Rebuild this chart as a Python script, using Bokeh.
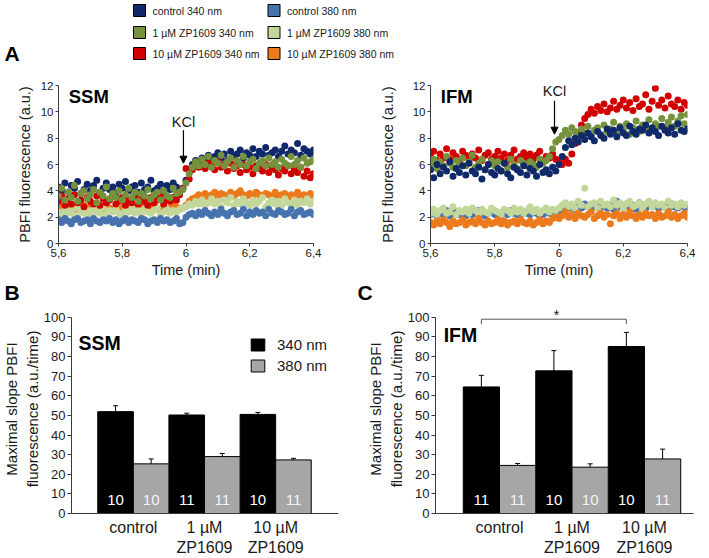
import numpy as np
from bokeh.plotting import figure
from bokeh.models import (Range1d, FixedTicker, Whisker, TeeHead, Label, Arrow,
                          NormalHead, Legend, LegendItem, ColumnDataSource)
from bokeh.layouts import column, row
from bokeh.embed import file_html
from bokeh.resources import INLINE
from bokeh.core.properties import value

FONT = "Liberation Sans"

# ---------------- data ----------------
time_start = 5.60
time_step = 0.01
time_ticks = [5.6, 5.8, 6.0, 6.2, 6.4]
time_tick_labels = ["5,6", "5,8", "6", "6,2", "6,4"]
fluor_ticks = [0, 2, 4, 6, 8, 10, 12]

series_labels = ["control 340 nm", "1 µM ZP1609 340 nm", "10 µM ZP1609 340 nm",
                 "control 380 nm", "1 µM ZP1609 380 nm", "10 µM ZP1609 380 nm"]
series_colors = ["#10296a", "#76923c", "#d00000", "#4672ad", "#c4d79b", "#ec7a1c"]

# SSM traces (one value every 0.01 min from 5.60 to 6.40)
ssm_ctrl_340 = [4.3,4.0,4.6,3.9,4.4,4.2,4.7,3.8,4.1,4.5,4.0,4.4,4.8,3.9,4.2,4.6,4.1,4.3,3.8,4.5,
                4.2,4.7,4.0,4.3,4.4,3.9,4.6,4.1,4.3,4.8,4.0,4.2,4.5,3.9,4.4,4.1,4.6,4.3,4.0,4.2,
                4.8,5.6,6.0,6.3,6.1,6.5,6.2,6.7,6.4,6.6,6.9,6.5,6.8,6.3,7.0,6.6,6.8,7.1,6.5,6.9,
                6.7,7.2,6.6,7.0,6.8,7.3,6.7,6.9,7.1,6.6,7.0,7.4,6.8,7.1,6.9,7.6,6.7,7.2,7.0,6.8,7.1]
ssm_1um_340 = [3.6,4.2,3.3,3.9,3.5,4.4,3.2,3.8,4.0,3.4,3.7,4.1,3.1,3.9,3.6,4.3,3.4,3.8,3.5,4.0,
               3.3,3.7,4.2,3.5,3.9,3.2,3.8,3.6,4.1,3.4,3.7,3.9,3.3,4.0,3.6,3.5,4.2,3.8,3.9,4.1,
               4.6,5.3,5.8,6.2,5.9,6.4,6.0,6.6,5.8,6.3,6.1,6.7,5.9,6.2,6.5,5.8,6.3,6.0,6.6,5.9,
               6.2,6.4,5.7,6.1,6.3,5.9,6.5,6.0,6.2,5.8,6.4,6.1,5.9,6.6,6.0,6.3,5.8,6.5,6.1,6.2,6.4]
ssm_10um_340 = [3.2,3.6,2.9,3.4,3.0,3.7,3.1,3.3,2.8,3.5,3.2,3.0,3.6,2.9,3.4,3.1,3.3,3.7,3.0,3.2,
                3.5,2.9,3.3,3.1,3.6,3.0,3.4,3.2,2.9,3.5,3.1,3.3,3.6,3.0,3.4,3.2,3.5,3.3,3.7,4.2,
                5.7,4.9,5.6,6.0,5.8,6.3,5.7,6.1,5.9,5.6,6.2,5.8,6.0,5.5,6.1,5.7,5.9,5.4,6.0,5.6,
                5.8,5.3,5.9,5.7,5.5,6.0,5.4,5.8,5.6,5.2,5.7,5.5,5.9,5.3,5.6,5.4,5.8,5.1,5.5,5.0,5.3]
ssm_ctrl_380 = [1.8,1.6,1.9,1.7,1.5,1.8,1.9,1.6,1.7,1.8,1.5,1.9,1.7,1.6,1.8,1.7,1.9,1.6,1.8,1.5,
                1.7,1.9,1.6,1.8,1.7,1.6,1.9,1.8,1.5,1.7,1.8,1.6,1.9,1.7,1.8,1.6,1.7,1.9,1.5,1.6,
                2.0,2.2,2.3,2.1,2.4,2.2,2.5,2.3,2.1,2.4,2.2,2.6,2.3,2.1,2.4,2.5,2.2,2.3,2.6,2.1,
                2.4,2.2,2.5,2.3,2.4,2.1,2.6,2.3,2.2,2.5,2.4,2.2,2.3,2.6,2.1,2.4,2.5,2.2,2.3,2.4,2.2]
ssm_1um_380 = [2.4,2.2,2.6,2.3,2.5,2.1,2.7,2.4,2.3,2.5,2.2,2.6,2.4,2.3,2.7,2.2,2.5,2.4,2.6,2.3,
               2.1,2.5,2.4,2.7,2.3,2.5,2.2,2.6,2.4,2.3,2.5,2.7,2.2,2.4,2.6,2.3,2.5,2.4,2.6,2.7,
               2.8,3.0,2.9,3.2,3.0,3.3,2.9,3.1,3.4,3.0,3.2,2.8,3.3,3.1,3.5,2.9,3.2,3.0,3.4,3.1,
               2.9,3.3,3.0,3.2,3.5,2.8,3.1,3.3,3.0,3.2,2.9,3.4,3.1,3.0,3.3,2.9,3.2,3.1,3.4,3.0,3.2]
ssm_10um_380 = [2.8,2.6,2.9,2.7,2.5,2.8,2.6,2.7,2.9,2.6,2.8,2.7,2.5,2.8,2.6,2.9,2.7,2.6,2.8,2.5,
                2.7,2.9,2.6,2.8,2.7,2.6,2.8,2.9,2.7,2.6,2.8,2.7,2.5,2.8,2.6,2.7,2.9,2.8,2.6,2.7,
                2.9,3.2,3.4,3.5,3.7,3.6,3.8,3.5,3.7,3.9,3.6,3.8,3.7,3.5,3.9,3.6,3.8,4.0,3.7,3.6,
                3.8,3.5,3.9,3.7,3.6,3.8,3.7,3.5,3.9,3.6,3.7,3.8,3.5,3.7,3.6,3.9,3.5,3.7,3.6,3.8,3.6]

# IFM traces
ifm_ctrl_340 = [5.6,5.0,6.0,5.3,5.8,5.5,6.2,5.1,5.7,5.4,5.9,5.2,6.1,5.5,5.3,5.8,4.9,5.6,6.0,5.4,
                5.2,5.7,5.5,6.1,5.3,5.0,5.8,5.6,5.4,5.9,5.2,5.7,5.5,5.1,6.0,5.4,5.6,5.3,5.8,5.5,
                6.0,6.6,7.3,7.8,7.5,8.0,7.7,8.2,7.9,8.4,8.1,7.8,8.5,8.2,8.0,8.7,8.3,8.6,8.1,8.8,
                8.4,8.2,8.9,8.5,8.3,8.7,8.6,9.0,8.4,8.8,8.5,8.2,8.9,8.6,8.4,8.8,8.3,9.1,8.6,8.5,8.7]
ifm_1um_340 = [6.0,6.4,5.7,6.2,5.9,6.6,6.1,5.8,6.3,6.0,6.5,5.9,6.2,6.7,5.8,6.1,6.4,5.6,6.0,6.3,
               5.9,6.2,5.5,6.1,5.8,6.4,6.0,5.7,6.3,6.1,5.9,6.2,6.0,5.8,6.4,6.1,6.3,6.6,7.2,7.7,
               7.9,8.2,8.6,8.3,8.8,8.5,8.1,8.7,8.4,8.9,8.2,8.6,8.8,8.3,9.0,8.5,8.7,9.2,8.4,8.9,
               8.6,9.1,8.3,8.8,9.3,8.5,9.0,8.7,9.4,8.6,9.1,8.9,9.5,8.8,9.2,9.6,8.9,9.3,9.7,9.1,9.8]
ifm_10um_340 = [6.6,7.0,6.3,6.8,6.5,7.2,6.4,6.9,6.6,6.2,7.0,6.7,6.4,6.8,6.5,7.1,6.3,6.7,6.9,6.4,
                6.6,7.0,6.5,6.8,6.3,6.7,7.1,6.4,6.6,6.9,6.5,6.8,6.4,6.7,7.0,6.3,6.6,6.5,6.8,6.4,
                6.2,6.0,6.4,6.1,6.8,7.6,8.4,9.0,9.5,9.8,10.2,9.9,10.4,10.1,10.6,10.0,10.3,10.8,10.2,10.5,
                10.9,10.3,10.7,10.1,11.0,10.4,10.6,11.3,10.2,10.8,11.8,10.5,10.9,10.3,11.2,10.6,10.4,10.9,10.2,10.7,10.5]
ifm_ctrl_380 = [2.2,2.4,2.1,2.3,2.2,2.5,2.1,2.3,2.4,2.2,2.3,2.1,2.4,2.2,2.3,2.5,2.2,2.1,2.3,2.4,
                2.2,2.3,2.1,2.4,2.2,2.5,2.3,2.2,2.1,2.4,2.3,2.2,2.4,2.3,2.1,2.2,2.4,2.3,2.5,2.4,
                2.5,2.6,2.8,2.7,2.9,2.6,2.8,2.7,3.0,2.8,2.6,2.9,2.7,3.1,2.8,2.7,2.9,2.6,3.2,2.8,
                2.7,3.0,2.8,2.9,2.6,3.1,2.8,2.7,2.9,2.8,3.0,2.7,2.9,2.8,2.6,3.0,2.8,2.7,2.9,2.8,2.7]
ifm_1um_380 = [2.3,2.6,2.2,2.5,2.7,2.3,2.4,2.8,2.2,2.5,2.4,2.6,2.3,2.7,2.5,2.2,2.6,2.4,2.3,2.7,
               2.5,2.4,2.2,2.6,2.5,2.3,2.7,2.4,2.6,2.3,2.5,2.8,2.4,2.6,2.3,2.5,2.7,2.4,2.6,2.5,
               2.7,2.9,3.1,2.8,3.0,2.7,3.2,2.9,4.2,2.8,3.0,3.1,2.7,3.2,2.9,3.0,2.8,3.3,2.9,3.1,
               2.7,3.0,3.2,2.8,2.9,3.1,2.7,3.0,3.2,2.8,3.1,2.9,3.0,2.7,3.2,2.9,3.0,2.8,3.1,2.9,3.0]
ifm_10um_380 = [1.6,1.4,1.7,1.5,1.8,1.6,1.3,1.7,1.5,1.6,1.8,1.4,1.6,1.7,1.5,1.9,1.6,1.4,1.7,1.5,
                1.6,1.8,1.5,1.7,1.4,1.6,1.7,1.5,1.8,1.6,1.5,1.7,1.4,1.6,1.8,1.5,1.7,1.6,1.9,2.0,
                1.9,2.1,2.4,2.0,2.2,1.9,2.3,2.1,2.0,2.2,2.4,1.9,2.1,2.3,2.0,2.2,1.5,2.1,2.3,1.9,
                2.2,2.0,2.4,2.1,1.9,2.2,2.0,2.3,2.1,2.2,1.9,2.3,2.0,2.1,2.4,2.0,2.2,1.9,2.1,2.3,2.0]

# bar charts
categories = ["control", "1 µM\nZP1609", "10 µM\nZP1609"]
bar_ticks = [0, 10, 20, 30, 40, 50, 60, 70, 80, 90, 100]
ssm_340 = [51.9, 50.2, 50.5]
ssm_340_err = [3.0, 0.9, 1.0]
ssm_380 = [25.3, 29.0, 27.3]
ssm_380_err = [2.5, 1.6, 0.8]
ssm_n_340 = [10, 11, 10]
ssm_n_380 = [10, 11, 11]
ifm_340 = [64.5, 72.7, 85.1]
ifm_340_err = [5.9, 10.3, 7.2]
ifm_380 = [24.5, 23.6, 27.8]
ifm_380_err = [1.0, 1.7, 5.0]
ifm_n_340 = [11, 10, 10]
ifm_n_380 = [11, 10, 11]

AX = "#3a3a3a"


def base_fig(width, height, xr, yr, left, right, top, bottom):
    p = figure(width=width, height=height, x_range=xr, y_range=yr,
               output_backend="svg", toolbar_location=None,
               min_border_left=left, min_border_right=right,
               min_border_top=top, min_border_bottom=bottom)
    p.outline_line_color = None
    p.grid.visible = False
    p.background_fill_color = "white"
    p.border_fill_color = "white"
    return p


def style_axis(ax, tick_font, label_font):
    ax.axis_line_color = AX
    ax.major_tick_line_color = AX
    ax.minor_tick_line_color = None
    ax.major_tick_in = 0
    ax.major_label_text_font = FONT
    ax.major_label_text_font_size = tick_font
    ax.major_label_text_color = "#1a1a1a"
    ax.axis_label_text_font = FONT
    ax.axis_label_text_font_style = "normal"
    ax.axis_label_text_font_size = label_font
    ax.axis_label_text_color = "#1a1a1a"


def text_strip(width, height):
    s = base_fig(width, height, Range1d(0, width), Range1d(height, 0), 0, 0, 0, 0)
    s.axis.visible = False
    return s


def panel_letter(fig, x, y, letter):
    fig.add_layout(Label(x=x, y=y, text=letter, text_font=FONT, text_font_style="bold",
                         text_font_size="21px", text_baseline="middle", text_color="black"))


# ---------------- legend strip ----------------
LEG_W, LEG_H = 709, 66
leg = text_strip(LEG_W, LEG_H)
leg_x_sq = [139, 139, 139, 273.5, 273.5, 273.5]
leg_y = [10, 32, 53, 10, 32, 53]
leg.scatter(x=leg_x_sq, y=leg_y, marker="square", size=12,
            fill_color=series_colors, line_color="black", line_width=1)
leg.text(x=[x + 13 for x in leg_x_sq], y=leg_y, text=series_labels,
         text_font=value(FONT), text_font_size="10.5px", text_baseline="middle",
         text_color="#1a1a1a")
panel_letter(leg, 4, 53, "A")


# ---------------- trace panels ----------------
def trace_fig(name, series_list, order, width, left, right, label_standoff, kcl_x, kcl_y, arrow_top, arrow_bot):
    p = base_fig(width, 214, Range1d(5.6, 6.4), Range1d(0, 12), left, right, 19, 37)
    n = len(series_list[0])
    t = np.round(time_start + time_step * np.arange(n), 2)
    for i in order:
        vals = series_list[i]
        assert len(vals) == n
        p.scatter(x=t, y=vals, size=7, fill_color=series_colors[i], line_color=None)
    p.xaxis.ticker = FixedTicker(ticks=time_ticks)
    p.xaxis.major_label_overrides = {k: v for k, v in zip(time_ticks, time_tick_labels)}
    p.yaxis.ticker = FixedTicker(ticks=fluor_ticks)
    p.xaxis.axis_label = "Time (min)"
    p.yaxis.axis_label = "PBFI fluorescence (a.u.)"
    for ax in (p.xaxis[0], p.yaxis[0]):
        style_axis(ax, "11.5px", "14.5px")
        ax.major_tick_out = 3
        ax.major_label_standoff = 2
    p.xaxis.axis_label_standoff = 2
    p.yaxis.axis_label_standoff = label_standoff
    p.add_layout(Label(x=5.632, y=11.2, text=name, text_font=FONT, text_font_style="bold",
                       text_font_size="18.5px", text_baseline="middle", text_color="black"))
    p.add_layout(Label(x=kcl_x, y=kcl_y, text="KCl", text_font=FONT, text_font_size="14.5px",
                       text_baseline="middle", text_align="center", text_color="#1a1a1a"))
    p.add_layout(Arrow(x_start=kcl_x, y_start=arrow_top, x_end=kcl_x, y_end=arrow_bot,
                       line_width=1.2, line_color="black",
                       end=NormalHead(size=7, fill_color="black", line_color="black")))
    return p


ssm_series = [ssm_ctrl_340, ssm_1um_340, ssm_10um_340, ssm_ctrl_380, ssm_1um_380, ssm_10um_380]
ifm_series = [ifm_ctrl_340, ifm_1um_340, ifm_10um_340, ifm_ctrl_380, ifm_1um_380, ifm_10um_380]

a1 = trace_fig("SSM", ssm_series, [5, 4, 3, 0, 2, 1], 350, 58, 37, 5,
               5.992, 9.2, 8.6, 6.1)
a2 = trace_fig("IFM", ifm_series, [3, 4, 5, 2, 1, 0], 359, 80, 22, 14,
               5.986, 11.55, 10.85, 8.3)


# ---------------- bar panels ----------------
def bar_fig(name, name_y, v340, e340, v380, e380, n340, n380,
            width, left, right, xr, legend=False, bracket=False):
    p = base_fig(width, 254, Range1d(*xr), Range1d(0, 106.5), left, right, 0, 42)
    x = np.arange(len(categories))
    r1 = p.vbar(x=x - 0.25, top=v340, width=0.5, fill_color="black", line_color="black", line_width=1)
    r2 = p.vbar(x=x + 0.25, top=v380, width=0.5, fill_color="#a6a6a6", line_color="black", line_width=1)
    for xs, v, e in ((x - 0.25, v340, e340), (x + 0.25, v380, e380)):
        v = np.array(v)
        src = ColumnDataSource(dict(base=xs, lower=v, upper=v + np.array(e)))
        p.add_layout(Whisker(source=src, base="base", lower="lower", upper="upper",
                             lower_head=None, line_color="black", line_width=1,
                             upper_head=TeeHead(size=5, line_width=1, line_color="black")))
    p.text(x=x - 0.25, y=[7] * len(x), text=[str(k) for k in n340], text_color="white",
           text_align="center", text_baseline="middle", text_font=value(FONT), text_font_size="15px")
    p.text(x=x + 0.25, y=[7] * len(x), text=[str(k) for k in n380], text_color="#f4f4f4",
           text_align="center", text_baseline="middle", text_font=value(FONT), text_font_size="15px")
    p.xaxis.ticker = FixedTicker(ticks=list(x))
    p.xaxis.major_label_overrides = {int(i): c for i, c in zip(x, categories)}
    p.yaxis.ticker = FixedTicker(ticks=bar_ticks)
    p.yaxis.bounds = (0, 100)
    p.yaxis.axis_label = "Maximal slope PBFI\nfluorescence (a.u./time)"
    for ax in (p.xaxis[0], p.yaxis[0]):
        style_axis(ax, "13px", "15px")
    p.xaxis.major_label_text_font_size = "16px"
    p.xaxis.major_tick_out = 0
    p.xaxis.major_label_standoff = 5
    p.yaxis.major_tick_out = 4
    p.yaxis.major_label_standoff = 2
    p.yaxis.axis_label_standoff = 0
    p.add_layout(Label(x=-0.77, y=name_y, text=name, text_font=FONT, text_font_style="bold",
                       text_font_size="19.5px", text_baseline="middle", text_color="black"))
    if legend:
        lg = Legend(items=[LegendItem(label="340 nm", renderers=[r1]),
                           LegendItem(label="380 nm", renderers=[r2])],
                    location=(178, 139), glyph_width=17, glyph_height=15, spacing=4,
                    label_standoff=11, padding=0, margin=0, border_line_color=None,
                    background_fill_alpha=0, label_text_font=FONT, label_text_font_size="15px",
                    label_text_color="#1a1a1a")
        p.add_layout(lg)
    if bracket:
        p.line(x=[-0.25, -0.25, 1.75, 1.75], y=[96.5, 99, 99, 96.5], line_color="#555555", line_width=1)
        p.text(x=[0.785], y=[101], text=["*"], text_font=value(FONT), text_font_size="14px",
               text_align="center", text_baseline="alphabetic", text_color="#1a1a1a")
    return p


bc_strip = text_strip(709, 24)
panel_letter(bc_strip, 4, 12, "B")
panel_letter(bc_strip, 357, 12, "C")

b = bar_fig("SSM", 87, ssm_340, ssm_340_err, ssm_380, ssm_380_err, ssm_n_340, ssm_n_380,
            350, 66, 12, (-0.869, 2.883), legend=True)
c = bar_fig("IFM", 91, ifm_340, ifm_340_err, ifm_380, ifm_380_err, ifm_n_340, ifm_n_380,
            359, 85, 16, (-0.883, 2.676), bracket=True)

layout = column(leg, row(a1, a2), bc_strip, row(b, c))
open("out.html", "w").write(file_html(layout, INLINE))
